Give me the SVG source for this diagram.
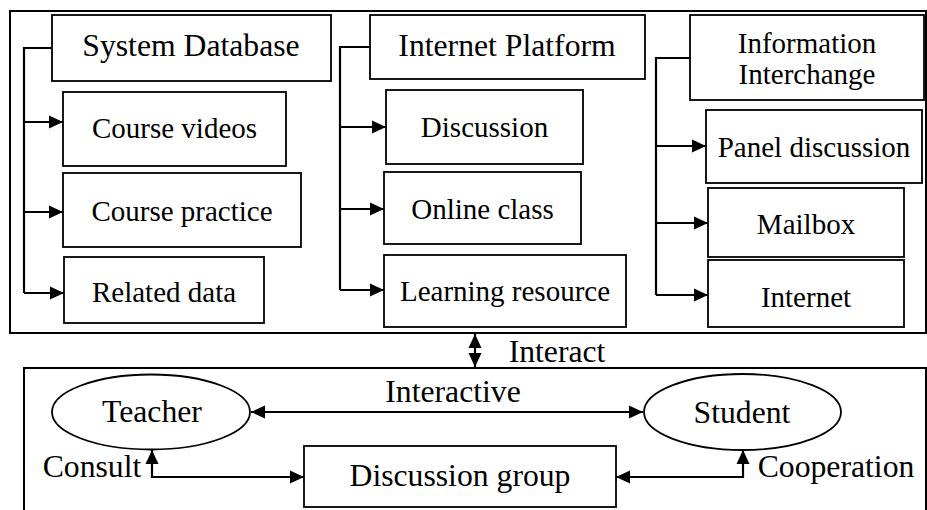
<svg xmlns="http://www.w3.org/2000/svg" width="927" height="510" viewBox="0 0 927 510" font-family="Liberation Serif">
<style>
.box{fill:#fff;stroke:#000;stroke-width:1.8}
.frame{fill:none;stroke:#000;stroke-width:2}
.con{fill:none;stroke:#000;stroke-width:2.2}
text{fill:#000;text-anchor:middle}
.s{font-size:29px}
.h{font-size:31.7px}
</style>
<defs>
<marker id="ah" markerUnits="userSpaceOnUse" markerWidth="15" markerHeight="14" refX="14" refY="7" orient="auto-start-reverse">
<path d="M0,0.5 L14,7 L0,13.5 z" fill="#000"/>
</marker>
</defs>
<rect class="frame" x="10" y="11" width="916" height="322"/>
<rect class="frame" x="24" y="368" width="902" height="160"/>
<g id="connectors">
<path class="con" d="M52,48 H24 V293"/>
<path class="con" d="M24,122 H63" marker-end="url(#ah)"/>
<path class="con" d="M24,212 H63" marker-end="url(#ah)"/>
<path class="con" d="M24,293 H64" marker-end="url(#ah)"/>
<path class="con" d="M370,47 H340 V290"/>
<path class="con" d="M340,127 H386" marker-end="url(#ah)"/>
<path class="con" d="M340,209 H384" marker-end="url(#ah)"/>
<path class="con" d="M340,290 H384" marker-end="url(#ah)"/>
<path class="con" d="M690,58 H656 V295"/>
<path class="con" d="M656,146 H706" marker-end="url(#ah)"/>
<path class="con" d="M656,223 H708" marker-end="url(#ah)"/>
<path class="con" d="M656,295 H708" marker-end="url(#ah)"/>
<path class="con" d="M475,334 V367" marker-start="url(#ah)" marker-end="url(#ah)"/>
<path class="con" d="M251,412 H643" marker-start="url(#ah)" marker-end="url(#ah)"/>
<path class="con" d="M152,450 V477 H304" marker-start="url(#ah)" marker-end="url(#ah)"/>
<path class="con" d="M743,450 V477 H616" marker-start="url(#ah)" marker-end="url(#ah)"/>
<text class="h" x="557" y="362" font-family="Liberation Serif">Interact</text>
<text class="h" x="453" y="402" font-family="Liberation Serif">Interactive</text>
<text class="h" x="92" y="477" font-family="Liberation Serif">Consult</text>
<text class="h" x="836" y="477" font-family="Liberation Serif">Cooperation</text>
</g>
<g id="system-database"><rect class="box" x="52" y="15" width="279" height="66"/><text class="h" x="191" y="56" font-family="Liberation Serif">System Database</text></g>
<g id="course-videos"><rect class="box" x="63" y="92" width="223" height="74"/><text class="s" x="174.5" y="138" font-family="Liberation Serif">Course videos</text></g>
<g id="course-practice"><rect class="box" x="63" y="173" width="238" height="74"/><text class="s" x="182" y="221" font-family="Liberation Serif">Course practice</text></g>
<g id="related-data"><rect class="box" x="64" y="257" width="200" height="66"/><text class="s" x="164" y="302" font-family="Liberation Serif">Related data</text></g>
<g id="internet-platform"><rect class="box" x="370" y="15" width="275" height="64"/><text class="h" x="507" y="56" font-family="Liberation Serif">Internet Platform</text></g>
<g id="discussion"><rect class="box" x="386" y="90" width="197" height="74"/><text class="s" x="484.5" y="137" font-family="Liberation Serif">Discussion</text></g>
<g id="online-class"><rect class="box" x="384" y="172" width="197" height="72"/><text class="s" x="482.5" y="219" font-family="Liberation Serif">Online class</text></g>
<g id="learning-resource"><rect class="box" x="384" y="255" width="242" height="72"/><text class="s" x="505" y="301" font-family="Liberation Serif">Learning resource</text></g>
<g id="information-interchange"><rect class="box" x="690" y="15" width="234" height="85"/><text class="s" x="807" y="53" font-family="Liberation Serif">Information</text><text class="s" x="807" y="84" font-family="Liberation Serif">Interchange</text></g>
<g id="panel-discussion"><rect class="box" x="706" y="110" width="216" height="73"/><text class="s" x="814" y="157" font-family="Liberation Serif">Panel discussion</text></g>
<g id="mailbox"><rect class="box" x="708" y="188" width="196" height="69"/><text class="s" x="806" y="234" font-family="Liberation Serif">Mailbox</text></g>
<g id="internet"><rect class="box" x="708" y="260" width="196" height="67"/><text class="s" x="806" y="307" font-family="Liberation Serif">Internet</text></g>
<g id="teacher"><ellipse class="box" cx="151" cy="412" rx="99" ry="37.5"/><text class="h" x="152" y="422" font-family="Liberation Serif">Teacher</text></g>
<g id="student"><ellipse class="box" cx="742.5" cy="412" rx="98.5" ry="38"/><text class="h" x="742" y="423" font-family="Liberation Serif">Student</text></g>
<g id="discussion-group"><rect class="box" x="304" y="446" width="312" height="61"/><text class="h" x="460" y="486" font-family="Liberation Serif">Discussion group</text></g>
</svg>
